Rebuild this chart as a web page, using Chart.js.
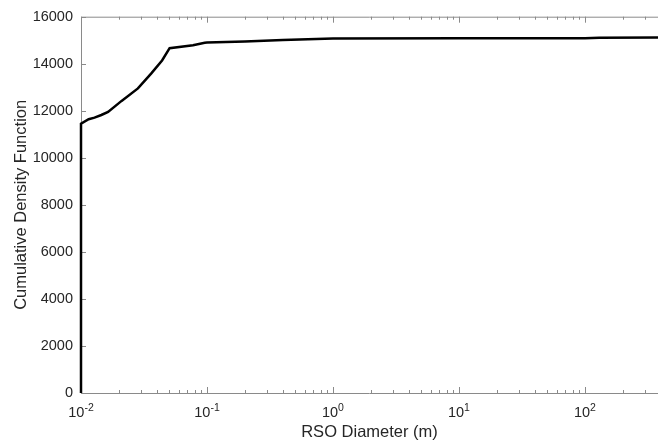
<!DOCTYPE html>
<html lang="en">
<head>
<meta charset="UTF-8">
<title>RSO Diameter CDF</title>
<style>
  html, body { margin: 0; padding: 0; background: #fff; }
  #wrap { width: 658px; height: 442px; }
</style>
</head>
<body>
<div id="wrap"><canvas id="myChart"></canvas></div>

<script src="https://cdn.jsdelivr.net/npm/chart.js"></script>
<script>
    // RSO diameter (m) and cumulative count
    const diameters = [0.01, 0.01, 0.0115, 0.0128, 0.0145, 0.0164, 0.021, 0.0283, 0.036, 0.044,
        0.0505, 0.0775, 0.096, 0.1, 0.2, 0.4, 1, 10, 100, 130, 380];
    const counts = [0, 11450, 11640, 11710, 11820, 11950, 12420, 12950, 13580, 14140,
        14660, 14790, 14890, 14900, 14950, 15010, 15070, 15080, 15085, 15110, 15120];

    const xMajorTicks = [0.01, 0.1, 1, 10, 100];
    const xTickExponents = ['-2', '-1', '0', '1', '2'];
    const yTicks = [0, 2000, 4000, 6000, 8000, 10000, 12000, 14000, 16000];

    const textColor = '#262626';
    const axisColor = '#8a8a8a';
    const fontFamily = '"Liberation Sans", Arial, Helvetica, sans-serif';

    // box lines, inward tick marks and 10^n labels
    const axisBox = {
        id: 'axisBox',
        beforeDatasetsDraw(chart) {
            const { ctx, chartArea: a, scales: { x, y } } = chart;
            ctx.save();
            ctx.strokeStyle = axisColor;
            ctx.lineWidth = 1;
            ctx.beginPath();
            ctx.moveTo(a.left + 0.5, a.top + 0.5);
            ctx.lineTo(a.left + 0.5, a.bottom + 0.5);
            ctx.moveTo(a.left, a.bottom + 0.5);
            ctx.lineTo(a.right, a.bottom + 0.5);
            ctx.moveTo(a.left, a.top + 0.5);
            ctx.lineTo(a.right, a.top + 0.5);

            // y ticks
            yTicks.forEach(v => {
                const py = Math.round(y.getPixelForValue(v)) + 0.5;
                ctx.moveTo(a.left, py);
                ctx.lineTo(a.left + 5, py);
            });

            // x major + minor ticks, bottom and top
            for (let d = -2; d <= 2; d++) {
                for (let m = 1; m <= 9; m++) {
                    const v = m * Math.pow(10, d);
                    if (v > x.max) continue;
                    const px = Math.round(x.getPixelForValue(v)) + 0.5;
                    const len = m === 1 ? 6 : 3;
                    ctx.moveTo(px, a.bottom);
                    ctx.lineTo(px, a.bottom - len);
                    ctx.moveTo(px, a.top);
                    ctx.lineTo(px, a.top + len);
                }
            }
            ctx.stroke();

            // x labels with superscript exponent
            ctx.fillStyle = textColor;
            ctx.textBaseline = 'alphabetic';
            ctx.textAlign = 'left';
            xMajorTicks.forEach((v, i) => {
                const px = x.getPixelForValue(v);
                ctx.font = '14.5px ' + fontFamily;
                const wBase = ctx.measureText('10').width;
                ctx.font = '10.5px ' + fontFamily;
                const wExp = ctx.measureText(xTickExponents[i]).width;
                const left = px - (wBase + wExp) / 2;
                ctx.font = '14.5px ' + fontFamily;
                ctx.fillText('10', left, a.bottom + 24);
                ctx.font = '10.5px ' + fontFamily;
                ctx.fillText(xTickExponents[i], left + wBase, a.bottom + 18);
            });
            ctx.restore();
        }
    };

    const ctx = document.getElementById('myChart');

    let chart = new Chart(ctx, {
        type: 'line',
        data: {
            datasets: [{
                data: diameters.map((d, i) => ({ x: d, y: counts[i] })),
                borderColor: '#000',
                borderWidth: 2.5,
                pointRadius: 0,
                tension: 0,
                fill: false,
                clip: 4
            }]
        },
        options: {
            responsive: true,
            maintainAspectRatio: false,
            animation: false,
            layout: { padding: { top: 16, right: 0, left: 0, bottom: 0 } },
            plugins: {
                legend: { display: false },
                tooltip: { enabled: false }
            },
            scales: {
                x: {
                    type: 'logarithmic',
                    min: 0.01,
                    max: 380,
                    grid: { display: false, drawTicks: false },
                    border: { display: false },
                    ticks: { display: false },
                    afterBuildTicks: s => { s.ticks = xMajorTicks.map(v => ({ value: v })); },
                    afterFit: s => { s.height = 49; },
                    title: {
                        display: true,
                        text: 'RSO Diameter (m)',
                        color: textColor,
                        font: { family: fontFamily, size: 16.5 },
                        padding: { top: 0, bottom: 0 }
                    }
                },
                y: {
                    min: 0,
                    max: 16000,
                    grid: { display: false, drawTicks: false },
                    border: { display: false },
                    ticks: {
                        stepSize: 2000,
                        color: textColor,
                        font: { family: fontFamily, size: 14.5 },
                        padding: 8,
                        callback: v => String(v)
                    },
                    afterBuildTicks: s => { s.ticks = yTicks.map(v => ({ value: v })); },
                    afterFit: s => { s.width = 81; },
                    title: {
                        display: true,
                        text: 'Cumulative Density Function',
                        color: textColor,
                        font: { family: fontFamily, size: 16.5 },
                        padding: { top: 12, bottom: 0 }
                    }
                }
            }
        },
        plugins: [axisBox]
    });
</script>
</body>
</html>
